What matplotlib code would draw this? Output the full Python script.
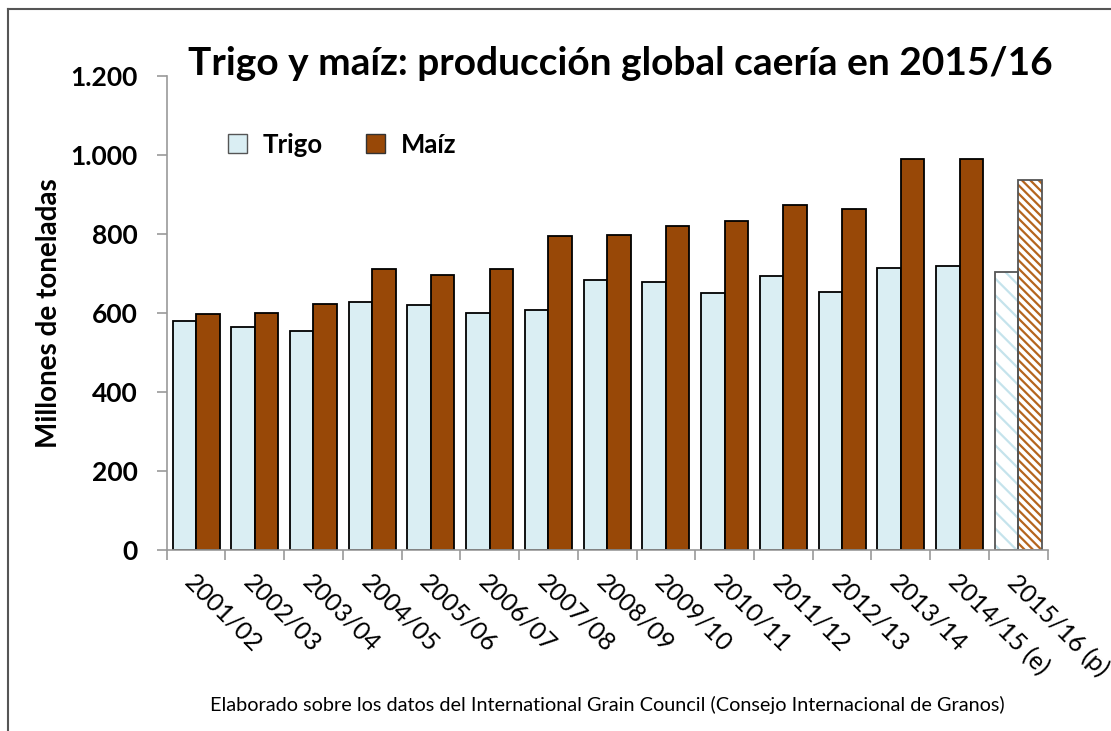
import numpy as np
import matplotlib
matplotlib.use('Agg')
import matplotlib.pyplot as plt
from matplotlib.lines import Line2D
from matplotlib.patches import Patch

plt.rcParams['font.family'] = ['Lato', 'DejaVu Sans']

# --- Datos (millones de toneladas) ---
campanias = ['2001/02', '2002/03', '2003/04', '2004/05', '2005/06', '2006/07',
             '2007/08', '2008/09', '2009/10', '2010/11', '2011/12', '2012/13',
             '2013/14', '2014/15 (e)', '2015/16 (p)']
trigo = [580, 566, 554, 629, 620, 600, 608, 685, 678, 652, 695, 653, 714, 719, 704]
maiz = [599, 600, 624, 711, 696, 711, 796, 799, 820, 833, 875, 865, 990, 990, 938]

color_trigo = '#DAEEF3'
color_maiz = '#984807'

fig = plt.figure(figsize=(11.11, 7.31), dpi=100)
ax = fig.add_axes([0.150, 0.2476, 0.793, 0.648])

x = np.arange(len(campanias))
ancho = 0.4
n = len(campanias)

# barras normales (todas menos la proyeccion)
ax.bar(x[:-1] - ancho / 2, trigo[:-1], ancho, color=color_trigo,
       edgecolor='black', linewidth=1.3, label='Trigo')
ax.bar(x[:-1] + ancho / 2, maiz[:-1], ancho, color=color_maiz,
       edgecolor='black', linewidth=1.3, label='Maíz')

# proyeccion 2015/16: rayado
plt.rcParams['hatch.linewidth'] = 1.6
ax.bar(x[-1] - ancho / 2, trigo[-1], ancho, color='white',
       edgecolor='#C5E3EC', hatch='\\\\', linewidth=0)
ax.bar(x[-1] + ancho / 2, maiz[-1], ancho, color='white',
       edgecolor='#B5651D', hatch='\\\\\\\\', linewidth=0)
ax.bar(x[-1] - ancho / 2, trigo[-1], ancho, fill=False,
       edgecolor='#555555', linewidth=1.3)
ax.bar(x[-1] + ancho / 2, maiz[-1], ancho, fill=False,
       edgecolor='#555555', linewidth=1.3)

ax.set_xlim(-0.5, n - 0.5)
ax.set_ylim(0, 1200)
ax.set_yticks(range(0, 1201, 200))
ax.set_yticklabels(['0', '200', '400', '600', '800', '1.000', '1.200'],
                   fontsize=19, fontweight='bold')

# ticks del eje x en los limites de cada categoria
ax.set_xticks(np.arange(-0.5, n, 1.0))
ax.set_xticklabels([])
ax.tick_params(axis='x', length=7, color='#999999', width=1.2)
ax.tick_params(axis='y', length=7, color='#999999', width=1.2, pad=14)
for i, etiqueta in enumerate(campanias):
    ax.text(i - 0.12, -72, etiqueta, rotation=-45, rotation_mode='anchor',
            ha='left', va='center', fontsize=18)

for lado in ['top', 'right']:
    ax.spines[lado].set_visible(False)
for lado in ['left', 'bottom']:
    ax.spines[lado].set_color('#999999')
    ax.spines[lado].set_linewidth(1.2)

ax.set_ylabel('Millones de toneladas', fontsize=20, fontweight='bold', labelpad=6)

fig.text(0.558, 0.913, 'Trigo y maíz: producción global caería en 2015/16',
         ha='center', va='center', fontsize=28, fontweight='bold')

manejadores = [Patch(facecolor=color_trigo, edgecolor='#555555'),
               Patch(facecolor=color_maiz, edgecolor='#333333')]
ax.legend(manejadores, ['Trigo', 'Maíz'], loc='upper left', ncol=2,
          bbox_to_anchor=(0.043, 0.93), frameon=False,
          prop={'size': 18.5, 'weight': 'bold'}, handlelength=0.75,
          handleheight=0.75, columnspacing=1.7, handletextpad=0.6)

fig.text(0.547, 0.035, 'Elaborado sobre los datos del International Grain Council '
         '(Consejo Internacional de Granos)', ha='center', va='center', fontsize=14.3)

# marco de la imagen (izquierda y arriba)
fig.add_artist(Line2D([0.0068, 0.0068], [0, 0.988], transform=fig.transFigure,
                      color='#555555', linewidth=1.5))
fig.add_artist(Line2D([0.0068, 1.0], [0.988, 0.988], transform=fig.transFigure,
                      color='#555555', linewidth=1.5))

fig.savefig('out.png', dpi=100)
